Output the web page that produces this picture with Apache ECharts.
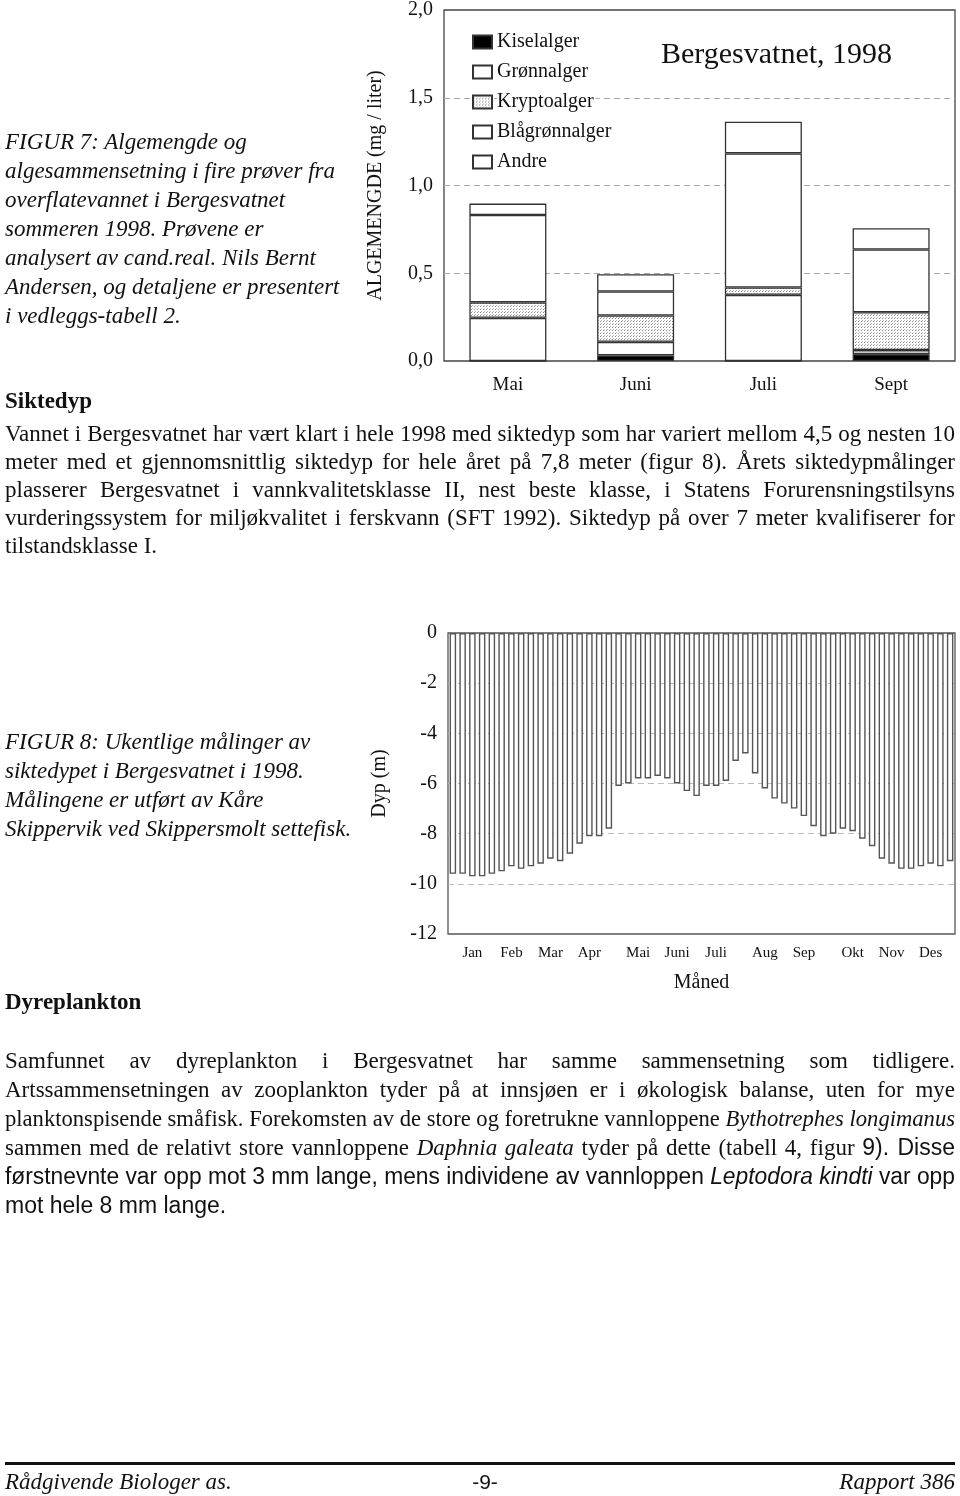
<!DOCTYPE html>
<html><head><meta charset="utf-8">
<script src="https://cdn.jsdelivr.net/npm/echarts@6/dist/echarts.min.js"></script>
<style>
html,body{margin:0;padding:0;background:#fff;}
body{width:960px;height:1496px;position:relative;overflow:hidden;color:#111;font-family:'Liberation Serif','Times New Roman',serif;}
#chart{position:absolute;left:0;top:0;width:960px;height:1496px;z-index:0;}
.blk{position:absolute;left:5px;font-size:23px;line-height:29px;z-index:1;}
.cap{font-style:italic;}
.h{font-weight:bold;}
.para{width:950px;}
.ln{height:29px;white-space:nowrap;}
.p1 .ln{height:28px;line-height:28px;}
.sans{font-family:'Liberation Sans',Arial,sans-serif;}
.foot{position:absolute;top:1467px;font-size:23px;line-height:29px;z-index:1;}
</style>
</head><body>
<div id="chart"></div>

<div class="blk cap" style="top:127px">FIGUR 7: Algemengde og<br>algesammensetning i fire prøver fra<br>overflatevannet i Bergesvatnet<br>sommeren 1998. Prøvene er<br>analysert av cand.real. Nils Bernt<br>Andersen, og detaljene er presentert<br>i vedleggs-tabell 2.</div>

<div class="blk h" style="top:386px">Siktedyp</div>

<div class="blk para p1" style="top:420px">
<div class="ln j"><span>Vannet i Bergesvatnet har vært klart i hele 1998 med siktedyp som har variert mellom 4,5 og nesten 10</span></div>
<div class="ln j"><span>meter med et gjennomsnittlig siktedyp for hele året på 7,8 meter (figur 8). Årets siktedypmålinger</span></div>
<div class="ln j"><span>plasserer Bergesvatnet i vannkvalitetsklasse II, nest beste klasse, i Statens Forurensningstilsyns</span></div>
<div class="ln j"><span>vurderingssystem for miljøkvalitet i ferskvann (SFT 1992). Siktedyp på over 7 meter kvalifiserer for</span></div>
<div class="ln"><span>tilstandsklasse I.</span></div>
</div>

<div class="blk cap" style="top:727px">FIGUR 8: Ukentlige målinger av<br>siktedypet i Bergesvatnet i 1998.<br>Målingene er utført av Kåre<br>Skippervik ved Skippersmolt settefisk.</div>

<div class="blk h" style="top:987px">Dyreplankton</div>

<div class="blk para" style="top:1046px">
<div class="ln j"><span>Samfunnet av dyreplankton i Bergesvatnet har samme sammensetning som tidligere.</span></div>
<div class="ln j"><span>Artssammensetningen av zooplankton tyder på at innsjøen er i økologisk balanse, uten for mye</span></div>
<div class="ln j"><span>planktonspisende småfisk. Forekomsten av de store og foretrukne vannloppene <i>Bythotrephes longimanus</i></span></div>
<div class="ln j"><span>sammen med de relativt store vannloppene <i>Daphnia galeata</i> tyder på dette (tabell 4, figur <span class="sans">9). Disse</span></span></div>
<div class="ln j sans"><span>førstnevnte var opp mot 3 mm lange, mens individene av vannloppen <i>Leptodora kindti</i> var opp</span></div>
<div class="ln sans"><span>mot hele 8 mm lange.</span></div>
</div>

<div style="position:absolute;left:5px;top:1462px;width:950px;height:3px;background:#111;"></div>
<div class="foot cap" style="left:5px;">Rådgivende Biologer as.</div>
<div class="foot sans" style="left:5px;width:960px;text-align:center;font-size:21px;">-9-</div>
<div class="foot cap" style="right:5px;">Rapport 386</div>

<script>
// ---- Figure 7 data (mg / liter) ----
var algaeMonths   = ['Mai', 'Juni', 'Juli', 'Sept'];
var kiselalger    = [0, 0.032, 0, 0.039];
var gronnalger    = [0.246, 0.077, 0.377, 0.023];
var kryptoalger   = [0.088, 0.150, 0.042, 0.216];
var blagronnalger = [0.498, 0.137, 0.764, 0.357];
var andre         = [0.065, 0.098, 0.180, 0.122];

// ---- Figure 8 data (weekly secchi depth, m) ----
var weeks = [1,2,3,4,5,6,7,8,9,10,11,12,13,14,15,16,17,18,19,20,21,22,23,24,25,26,
             27,28,29,30,31,32,33,34,35,36,37,38,39,40,41,42,43,44,45,46,47,48,49,50,51,52];
var siktedyp = [-9.6,-9.6,-9.7,-9.7,-9.6,-9.5,-9.3,-9.4,-9.3,-9.2,
                -9.0,-9.1,-8.8,-8.4,-8.1,-8.1,-7.8,-6.1,-6.0,-5.8,
                -5.8,-5.7,-5.8,-6.0,-6.3,-6.5,-6.1,-6.1,-5.9,-5.1,
                -4.8,-5.6,-6.2,-6.6,-6.8,-7.0,-7.3,-7.7,-8.1,-8.0,
                -7.8,-7.9,-8.2,-8.5,-9.0,-9.2,-9.4,-9.4,-9.3,-9.2,
                -9.3,-9.1];
var monthNames     = ['Jan','Feb','Mar','Apr','Mai','Juni','Juli','Aug','Sep','Okt','Nov','Des'];
var monthWeekIndex = [2, 6, 10, 14, 19, 23, 27, 32, 36, 41, 45, 49];

function justify() {
  document.querySelectorAll('.ln').forEach(function (el) {
    var span = el.firstElementChild;
    var w = span.getBoundingClientRect().width;
    if (el.classList.contains('j')) {
      if (w > 947) {
        span.style.display = 'inline-block';
        span.style.transformOrigin = '0 0';
        span.style.transform = 'scaleX(' + (950 / w) + ')';
      } else {
        el.style.whiteSpace = 'normal';
        el.style.textAlign = 'justify';
        el.style.textAlignLast = 'justify';
      }
    }
  });
}
if (document.fonts && document.fonts.ready) { document.fonts.ready.then(justify); } else { justify(); }

// dotted pattern for Kryptoalger
var pat = document.createElement('canvas');
pat.width = 3; pat.height = 3;
var pc = pat.getContext('2d');
pc.fillStyle = '#ffffff'; pc.fillRect(0, 0, 3, 3);
pc.fillStyle = '#8a8a8a'; pc.fillRect(0, 0, 1, 1); pc.fillStyle = '#b5b5b5'; pc.fillRect(1, 2, 1, 1);

var SERIF = "'Liberation Serif','Times New Roman',serif";
var chart = echarts.init(document.getElementById('chart'), null, {renderer: 'canvas'});

function seg(name, data, color) {
  return {
    name: name, type: 'bar', stack: 'alg', data: data,
    xAxisIndex: 0, yAxisIndex: 0, barWidth: 77,
    itemStyle: {color: color, borderColor: '#333', borderWidth: 1.3},
    emphasis: {disabled: true}, silent: true
  };
}

var option = {
  animation: false,
  title: {
    text: 'Bergesvatnet, 1998', left: 656, top: 35,
    textStyle: {fontFamily: SERIF, fontSize: 30, fontWeight: 'normal', color: '#111'}
  },
  legend: {
    orient: 'vertical', left: 467, top: 27, itemWidth: 19, itemHeight: 13, itemGap: 10,
    icon: 'rect', selectedMode: false,
    data: ['Kiselalger', 'Grønnalger', 'Kryptoalger', 'Blågrønnalger', 'Andre'],
    textStyle: {fontFamily: SERIF, fontSize: 20, color: '#111', backgroundColor: '#fff', padding: [0, 2, 0, 0]}
  },
  grid: [
    {left: 444, top: 6, width: 511, height: 355, show: true, borderColor: '#444', borderWidth: 1.3},
    {left: 448, top: 633, width: 507, height: 301, show: true, borderColor: '#555', borderWidth: 1.3}
  ],
  xAxis: [
    {
      type: 'category', gridIndex: 0, data: algaeMonths,
      axisLine: {show: false}, axisTick: {show: false},
      axisLabel: {fontFamily: SERIF, fontSize: 19, color: '#111', margin: 15}
    },
    {
      type: 'category', gridIndex: 1, data: weeks,
      name: 'Måned', nameLocation: 'middle', nameGap: 39,
      nameTextStyle: {fontFamily: SERIF, fontSize: 20, color: '#111'},
      axisLine: {show: false}, axisTick: {show: false},
      axisLabel: {
        interval: 0, fontFamily: SERIF, fontSize: 15, color: '#111', margin: 12,
        formatter: function (v, i) { var k = monthWeekIndex.indexOf(i); return k >= 0 ? monthNames[k] : ''; }
      }
    }
  ],
  yAxis: [
    {
      type: 'value', gridIndex: 0, min: 0, max: 2, interval: 0.5,
      name: 'ALGEMENGDE (mg / liter)', nameLocation: 'middle', nameRotate: 90, nameGap: 58,
      nameTextStyle: {fontFamily: SERIF, fontSize: 20, color: '#111'},
      axisLine: {show: false}, axisTick: {show: false},
      axisLabel: {fontFamily: SERIF, fontSize: 20, color: '#111', margin: 11,
        formatter: function (v) { return v.toFixed(1).replace('.', ','); }},
      splitLine: {show: true, showMinLine: false, showMaxLine: false,
        lineStyle: {color: '#aaaaaa', type: [6, 4], width: 1}}
    },
    {
      type: 'value', gridIndex: 1, min: -12, max: 0, interval: 2,
      name: 'Dyp (m)', nameLocation: 'middle', nameRotate: 90, nameGap: 58,
      nameTextStyle: {fontFamily: SERIF, fontSize: 20, color: '#111'},
      axisLine: {show: false}, axisTick: {show: false},
      axisLabel: {fontFamily: SERIF, fontSize: 20, color: '#111', margin: 11},
      splitLine: {show: true, showMinLine: false, showMaxLine: false,
        lineStyle: {color: '#bbbbbb', type: [6, 4], width: 1}}
    }
  ],
  series: [
    seg('Kiselalger', kiselalger, '#000000'),
    seg('Grønnalger', gronnalger, '#ffffff'),
    seg('Kryptoalger', kryptoalger, {image: pat, repeat: 'repeat'}),
    seg('Blågrønnalger', blagronnalger, '#ffffff'),
    seg('Andre', andre, '#ffffff'),
    {
      name: 'Siktedyp', type: 'bar', data: siktedyp, xAxisIndex: 1, yAxisIndex: 1,
      barWidth: 6.5, silent: true, emphasis: {disabled: true},
      itemStyle: {color: '#ffffff', borderColor: '#555', borderWidth: 1.4}
    }
  ]
};
chart.setOption(option);
</script>
</body></html>
